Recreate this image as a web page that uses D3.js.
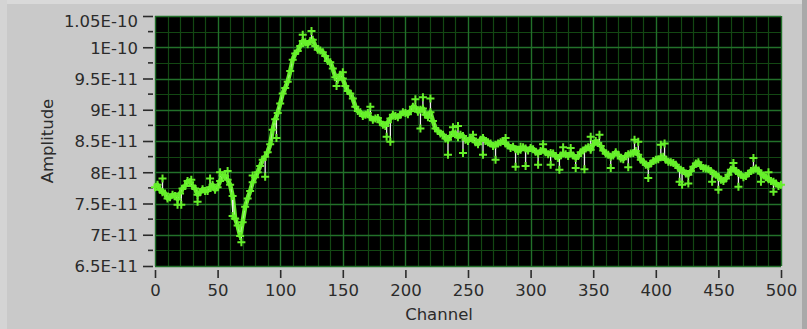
<!DOCTYPE html>
<html>
<head>
<meta charset="utf-8">
<script src="https://cdn.jsdelivr.net/npm/d3@7"></script>
<style>
  html, body { margin: 0; padding: 0; background: #c9c9c9; }
  svg { display: block; }
</style>
</head>
<body>
<svg id="chart" width="807" height="329"></svg>
<script>
// Amplitude readings in units of 1E-11.
// amplitude: channels 0, 4, 8, ... 500; amplitudeMid: channels 2, 6, 10, ... 498
const channelStep = 4;
const amplitude = [
  7.76, 7.72, 7.66, 7.60, 7.62, 7.66, 7.78, 7.84, 7.74, 7.68,
  7.70, 7.76, 7.72, 7.86, 7.94, 7.80, 7.26, 6.98, 7.45, 7.70,
  7.92, 8.10, 8.25, 8.45, 8.85, 9.10, 9.35, 9.62, 9.90, 10.02,
  10.08, 10.10, 10.02, 9.95, 9.86, 9.76, 9.52, 9.56, 9.38, 9.26,
  9.05, 8.96, 8.92, 8.88, 8.86, 8.80, 8.74, 8.86, 8.90, 8.92,
  8.95, 8.98, 9.04, 9.00, 8.92, 8.96, 8.70, 8.62, 8.54, 8.58,
  8.62, 8.60, 8.52, 8.55, 8.48, 8.52, 8.50, 8.46, 8.44, 8.48,
  8.46, 8.39, 8.37, 8.36, 8.38, 8.39, 8.33, 8.34, 8.32, 8.31,
  8.26, 8.27, 8.29, 8.30, 8.23, 8.32, 8.38, 8.36, 8.50, 8.42,
  8.30, 8.25, 8.32, 8.22, 8.26, 8.30, 8.34, 8.20, 8.12, 8.14,
  8.20, 8.24, 8.20, 8.16, 8.12, 8.04, 7.98, 8.02, 8.14, 8.10,
  8.06, 8.02, 7.96, 7.88, 7.90, 8.04, 8.02, 7.96, 7.94, 8.02,
  8.06, 7.98, 7.92, 7.86, 7.82, 7.80
];
const amplitudeMid = [
  7.80, 7.68, 7.58, 7.64, 7.57, 7.74, 7.86, 7.78, 7.64, 7.73,
  7.70, 7.80, 7.76, 7.95, 7.88, 7.62, 7.15, 7.20, 7.58, 7.84,
  8.00, 8.20, 8.32, 8.68, 8.95, 9.26, 9.45, 9.80, 9.94, 10.10,
  10.05, 10.12, 9.96, 9.92, 9.78, 9.66, 9.48, 9.50, 9.30, 9.18,
  8.98, 8.90, 8.95, 8.84, 8.87, 8.76, 8.80, 8.92, 8.88, 8.96,
  8.93, 9.05, 8.97, 9.02, 8.88, 8.82, 8.66, 8.60, 8.52, 8.64,
  8.56, 8.58, 8.50, 8.54, 8.45, 8.55, 8.48, 8.42, 8.46, 8.50,
  8.43, 8.41, 8.34, 8.40, 8.35, 8.37, 8.30, 8.36, 8.29, 8.30,
  8.23, 8.30, 8.26, 8.27, 8.26, 8.35, 8.40, 8.44, 8.47, 8.35,
  8.28, 8.27, 8.28, 8.21, 8.29, 8.31, 8.28, 8.17, 8.10, 8.18,
  8.21, 8.25, 8.17, 8.15, 8.07, 8.02, 7.96, 8.09, 8.16, 8.07,
  8.05, 7.98, 7.93, 7.86, 7.96, 8.06, 7.99, 7.92, 7.98, 8.04,
  8.03, 7.95, 7.89, 7.85, 7.78
];

// Outlying readings: [channel, amplitude (1E-11)], drawn as bars from the trace
const outliers = [
  [6, 7.90], [18, 7.48], [21, 7.48], [29, 7.88], [34, 7.53], [44, 7.90],
  [52, 8.00], [58, 8.02], [62, 7.30], [69, 6.88], [78, 7.95], [88, 7.93],
  [97, 8.55], [118, 10.20], [125, 10.26], [145, 9.38], [150, 9.60],
  [172, 9.05], [185, 8.57], [188, 8.49], [208, 9.17], [212, 8.70],
  [214, 9.20], [220, 9.18], [234, 8.28], [238, 8.72], [242, 8.74],
  [246, 8.31], [254, 8.60], [262, 8.28], [272, 8.20], [280, 8.55],
  [288, 8.09], [292, 8.41], [296, 8.10], [306, 8.12], [310, 8.45],
  [316, 8.12], [323, 8.04], [326, 8.40], [332, 8.39], [336, 8.07],
  [343, 8.05], [348, 8.57], [355, 8.60], [364, 8.07], [378, 8.08],
  [383, 8.52], [386, 8.49], [394, 7.91], [404, 8.44], [407, 8.46],
  [419, 7.85], [421, 7.80], [426, 7.82], [445, 7.85], [450, 7.72],
  [462, 8.15], [466, 7.77], [478, 8.23], [484, 7.85], [490, 8.00],
  [494, 7.69]
];

const xTicks = [0, 50, 100, 150, 200, 250, 300, 350, 400, 450, 500];
const yTicks = [6.5, 7, 7.5, 8, 8.5, 9, 9.5, 10, 10.5];
const yTickLabels = ["6.5E-11", "7E-11", "7.5E-11", "8E-11", "8.5E-11",
                     "9E-11", "9.5E-11", "1E-10", "1.05E-10"];

const svg = d3.select("#chart");
const W = 807, H = 329;
const plot = { left: 155, right: 781, top: 16, bottom: 266 };
const FONT = "DejaVu Sans, sans-serif";
const INK = "#2b2b2b";

// panel frame
svg.append("rect").attr("x", 0).attr("y", 0).attr("width", W).attr("height", H).attr("fill", "#c9c9c9");
svg.append("rect").attr("x", 0).attr("y", 0).attr("width", W).attr("height", 4).attr("fill", "#d9d9d9");
svg.append("rect").attr("x", 0).attr("y", 0).attr("width", 7).attr("height", H).attr("fill", "#d4d4d4");
svg.append("rect").attr("x", 802).attr("y", 0).attr("width", 5).attr("height", H).attr("fill", "#a9a9a9");

const x = d3.scaleLinear().domain([0, 500]).range([plot.left, plot.right]);
const y = d3.scaleLinear().domain([6.5, 10.5]).range([plot.bottom, plot.top]);

// plot background
svg.append("rect")
  .attr("x", plot.left).attr("y", plot.top)
  .attr("width", plot.right - plot.left).attr("height", plot.bottom - plot.top)
  .attr("fill", "#000");

const grid = svg.append("g");
// minor grid
grid.selectAll(".vmin").data(d3.range(0, 501, 10).filter(v => v % 50 !== 0)).join("line")
  .attr("x1", d => Math.round(x(d)) + 0.5).attr("x2", d => Math.round(x(d)) + 0.5)
  .attr("y1", plot.top).attr("y2", plot.bottom)
  .attr("stroke", "#134713").attr("stroke-width", 1.2);
grid.selectAll(".hmin").data(d3.range(6.75, 10.5, 0.5)).join("line")
  .attr("x1", plot.left).attr("x2", plot.right)
  .attr("y1", d => Math.round(y(d)) + 0.5).attr("y2", d => Math.round(y(d)) + 0.5)
  .attr("stroke", "#134713").attr("stroke-width", 1.2);
// major grid
grid.selectAll(".vmaj").data(xTicks).join("line")
  .attr("x1", d => Math.round(x(d)) + 0.5).attr("x2", d => Math.round(x(d)) + 0.5)
  .attr("y1", plot.top).attr("y2", plot.bottom)
  .attr("stroke", "#22702a").attr("stroke-width", 1.4);
grid.selectAll(".hmaj").data(yTicks).join("line")
  .attr("x1", plot.left).attr("x2", plot.right)
  .attr("y1", d => Math.round(y(d)) + 0.5).attr("y2", d => Math.round(y(d)) + 0.5)
  .attr("stroke", "#22702a").attr("stroke-width", 1.4);

// axes
const yAxis = d3.axisLeft(y).tickValues(yTicks)
  .tickFormat((d, i) => yTickLabels[i]).tickSize(10).tickPadding(5);
const gy = svg.append("g").attr("transform", `translate(${plot.left - 2},0)`).call(yAxis);
gy.select(".domain").remove();
gy.selectAll("line").attr("stroke", INK).attr("stroke-width", 1.6);
gy.selectAll("text").attr("font-family", FONT).attr("font-size", 16.5).attr("fill", INK)
  .attr("dy", (d) => d === 10.5 ? "0.62em" : "0.36em");
// minor ticks on the amplitude axis
svg.append("g").selectAll("line").data(d3.range(6.75, 10.5, 0.5)).join("line")
  .attr("x1", plot.left - 7).attr("x2", plot.left - 2)
  .attr("y1", d => y(d)).attr("y2", d => y(d))
  .attr("stroke", INK).attr("stroke-width", 1.6);

const xAxis = d3.axisBottom(x).tickValues(xTicks).tickFormat(d3.format("d")).tickSize(8).tickPadding(6);
const gx = svg.append("g").attr("transform", `translate(0,${plot.bottom + 4})`).call(xAxis);
gx.select(".domain").remove();
gx.selectAll("line").attr("stroke", INK).attr("stroke-width", 1.6);
gx.selectAll("text").attr("font-family", FONT).attr("font-size", 16.5).attr("fill", INK);

// axis titles
svg.append("text").attr("x", 439).attr("y", 320).attr("text-anchor", "middle")
  .attr("font-family", FONT).attr("font-size", 16.5).attr("fill", INK).text("Channel");
svg.append("text").attr("transform", "translate(53,141) rotate(-90)").attr("text-anchor", "middle")
  .attr("font-family", FONT).attr("font-size", 16.5).attr("fill", INK).text("Amplitude");

// data: interleave the two reading sets by channel
const points = amplitude.map((v, i) => ({ ch: i * channelStep, v }))
  .concat(amplitudeMid.map((v, i) => ({ ch: i * channelStep + channelStep / 2, v })))
  .sort((a, b) => a.ch - b.ch);
const valueAt = ch => d3.least(points, q => Math.abs(q.ch - ch)).v;

const dataG = svg.append("g");
const GREEN = "#66f02a";
const traceLine = d3.line().x(d => x(d.ch)).y(d => y(d.v));

dataG.append("path").datum(points)
  .attr("d", traceLine)
  .attr("fill", "none").attr("stroke", GREEN).attr("stroke-width", 4.5)
  .attr("stroke-linejoin", "round");
dataG.append("path").datum(points)
  .attr("d", traceLine)
  .attr("fill", "none").attr("stroke", "#f0f0f0").attr("stroke-width", 0.9)
  .attr("stroke-opacity", 0.55);

dataG.selectAll(".bar").data(outliers).join("line")
  .attr("x1", d => x(d[0])).attr("x2", d => x(d[0]))
  .attr("y1", d => y(valueAt(d[0]))).attr("y2", d => y(d[1]))
  .attr("stroke", "#eeeeee").attr("stroke-width", 1.3);

const markers = points.map(p => [p.ch, p.v]).concat(outliers);
dataG.selectAll(".mk").data(markers).join("path")
  .attr("transform", d => `translate(${x(d[0])},${y(d[1])})`)
  .attr("d", "M-4,0H4M0,-4V4")
  .attr("stroke", GREEN).attr("stroke-width", 2).attr("fill", "none");
</script>
</body>
</html>
